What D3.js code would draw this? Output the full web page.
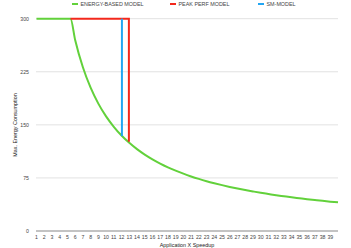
<html>
  <head>
    <script src="https://cdn.jsdelivr.net/npm/d3@7"></script>
    <style type="text/css">
      body { margin: 0; padding: 0; background: #fff; }
      text { font-family: "Liberation Sans", Arial, sans-serif; }
    </style>
  </head>
  <body>
    <div id="chart"></div>
    <script type="text/javascript">
      // values
      var seriesNames = ["ENERGY-BASED MODEL", "PEAK PERF MODEL", "SM-MODEL"];
      var seriesColors = ["#62d13b", "#f3281c", "#22a6f2"];

      var energyX = [1, 2, 3, 4, 5, 5.4, 6, 7, 8, 9, 10, 11, 12, 13, 14, 15, 16, 17, 18, 19, 20,
                     21, 22, 23, 24, 25, 26, 27, 28, 29, 30, 31, 32, 33, 34, 35, 36, 37, 38, 39, 40];
      var energyY = [300, 300, 300, 300, 300, 300, 270, 231.4, 202.5, 180, 162, 147.3, 135, 124.6, 115.7, 108, 101.3, 95.3, 90, 85.3, 81,
                     77.1, 73.6, 70.4, 67.5, 64.8, 62.3, 60, 57.9, 55.9, 54, 52.3, 50.6, 49.1, 47.6, 46.3, 45, 43.8, 42.6, 41.5, 40.5];
      var peakX = [5.4, 12.95, 12.95];
      var peakY = [300, 300, 126];
      var smX = [12.05, 12.05];
      var smY = [300, 134];

      var xTicks = d3.range(1, 40);
      var yTicks = [0, 75, 150, 225, 300];

      var width = 351, height = 248;
      var svg = d3.select("#chart").append("svg")
        .attr("width", width).attr("height", height);

      var x = d3.scaleLinear().domain([1, 40]).range([36.5, 338]);
      var y = d3.scaleLinear().domain([0, 300]).range([231, 18.7]);

      // gridlines
      svg.append("g").selectAll("line").data(yTicks.slice(1)).enter().append("line")
        .attr("x1", 36).attr("x2", 338)
        .attr("y1", function(d) { return y(d); }).attr("y2", function(d) { return y(d); })
        .attr("stroke", "#e2e2e2").attr("stroke-width", 1);

      // y labels
      svg.append("g").selectAll("text").data(yTicks).enter().append("text")
        .attr("x", 29).attr("y", function(d) { return y(d) + 1.8; })
        .attr("text-anchor", "end").attr("font-size", 5.2).attr("fill", "#444")
        .text(function(d) { return d; });

      // baseline
      svg.append("line").attr("x1", 36).attr("x2", 338)
        .attr("y1", y(0)).attr("y2", y(0))
        .attr("stroke", "#888").attr("stroke-width", 1.2);

      // x labels
      svg.append("g").selectAll("text").data(xTicks).enter().append("text")
        .attr("x", function(d) { return x(d); }).attr("y", 239)
        .attr("text-anchor", "middle").attr("font-size", 5.2).attr("fill", "#444")
        .text(function(d) { return d; });

      // axis titles
      svg.append("text").attr("x", 187).attr("y", 246.5)
        .attr("text-anchor", "middle").attr("font-size", 5.4).attr("fill", "#222")
        .text("Application X Speedup");
      svg.append("text").attr("transform", "translate(16.5,125) rotate(-90)")
        .attr("text-anchor", "middle").attr("font-size", 5.4).attr("fill", "#222")
        .text("Max. Energy Consumption");

      function pts(xs, ys) { return xs.map(function(v, i) { return [v, ys[i]]; }); }

      var smooth = d3.line().x(function(d) { return x(d[0]); }).y(function(d) { return y(d[1]); })
        .curve(d3.curveMonotoneX);
      var straight = d3.line().x(function(d) { return x(d[0]); }).y(function(d) { return y(d[1]); });

      svg.append("path").attr("d", smooth(pts(energyX, energyY)))
        .attr("fill", "none").attr("stroke", seriesColors[0]).attr("stroke-width", 2);
      svg.append("path").attr("d", straight(pts(peakX, peakY)))
        .attr("fill", "none").attr("stroke", seriesColors[1]).attr("stroke-width", 2);
      svg.append("path").attr("d", straight(pts(smX, smY)))
        .attr("fill", "none").attr("stroke", seriesColors[2]).attr("stroke-width", 2);

      // legend
      var legX = [72, 170, 258];
      var leg = svg.append("g").selectAll("g").data(seriesNames).enter().append("g")
        .attr("transform", function(d, i) { return "translate(" + legX[i] + ",4)"; });
      leg.append("line").attr("x1", 0).attr("x2", 6).attr("y1", 0).attr("y2", 0)
        .attr("stroke", function(d, i) { return seriesColors[i]; }).attr("stroke-width", 2);
      leg.append("text").attr("x", 8.5).attr("y", 1.9).attr("font-size", 5.4).attr("fill", "#444")
        .text(function(d) { return d; });
    </script>
  </body>
</html>
